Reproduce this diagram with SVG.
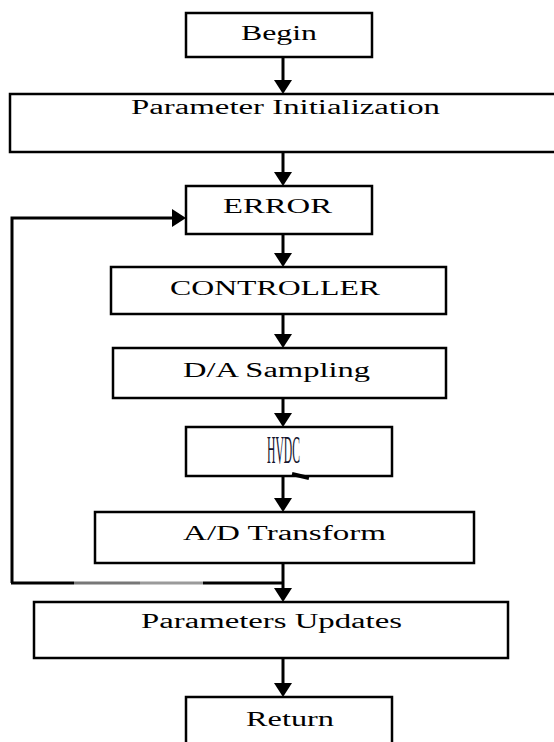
<svg xmlns="http://www.w3.org/2000/svg" width="554" height="742" viewBox="0 0 554 742">
<style>
.box{fill:#fff;stroke:#000;stroke-width:2.5}
.lbl{font-family:"Liberation Serif","Times New Roman",serif;font-size:20.5px;fill:#000}
.hv{font-family:"Liberation Serif","Times New Roman",serif;font-size:41px;fill:#15152e}
.con{fill:none;stroke:#000;stroke-width:3}
</style>
<defs>
<marker id="ah" viewBox="0 0 14 18" refX="10" refY="9" markerWidth="14" markerHeight="18" orient="auto" markerUnits="userSpaceOnUse">
<path d="M0,0 L14,9 L0,18 Z" fill="#000"/>
</marker>
</defs>
<rect width="554" height="742" fill="#fff"/>
<g id="connectors">
<line class="con" x1="283" y1="57" x2="283" y2="90" marker-end="url(#ah)"/>
<line class="con" x1="283" y1="152" x2="283" y2="182" marker-end="url(#ah)"/>
<line class="con" x1="283" y1="234" x2="283" y2="263" marker-end="url(#ah)"/>
<line class="con" x1="283" y1="314" x2="283" y2="344" marker-end="url(#ah)"/>
<line class="con" x1="283" y1="398" x2="283" y2="423" marker-end="url(#ah)"/>
<line class="con" x1="283" y1="476" x2="283" y2="508" marker-end="url(#ah)"/>
<line class="con" x1="283" y1="563" x2="283" y2="598" marker-end="url(#ah)"/>
<line class="con" x1="283" y1="658" x2="283" y2="693" marker-end="url(#ah)"/>
<polyline class="con" points="12,583 12,218 182,218" marker-end="url(#ah)"/>
<line class="con" x1="11" y1="583" x2="74" y2="583"/>
<line x1="74" y1="583" x2="140" y2="583" stroke="#777" stroke-width="3"/>
<line x1="140" y1="583" x2="203" y2="583" stroke="#9a9a9a" stroke-width="3"/>
<line class="con" x1="203" y1="583" x2="284" y2="583"/>
</g>
<g id="begin">
<rect class="box" x="186" y="13" width="186" height="44"/>
<text class="lbl" x="241" y="40" textLength="76" lengthAdjust="spacingAndGlyphs">Begin</text>
</g>
<g id="param-init">
<rect class="box" x="10" y="94" width="560" height="58"/>
<text class="lbl" x="131" y="114" textLength="309" lengthAdjust="spacingAndGlyphs">Parameter Initialization</text>
</g>
<g id="error">
<rect class="box" x="186" y="186" width="186" height="48"/>
<text class="lbl" x="223" y="213" textLength="109" lengthAdjust="spacingAndGlyphs">ERROR</text>
</g>
<g id="controller">
<rect class="box" x="111" y="267" width="335" height="47"/>
<text class="lbl" x="170" y="295" textLength="210" lengthAdjust="spacingAndGlyphs">CONTROLLER</text>
</g>
<g id="da-sampling">
<rect class="box" x="113" y="348" width="333" height="50"/>
<text class="lbl" x="183" y="377" textLength="187" lengthAdjust="spacingAndGlyphs">D/A Sampling</text>
</g>
<g id="hvdc">
<rect class="box" x="186" y="427" width="206" height="49"/>
<text class="hv" x="267" y="463" textLength="33" lengthAdjust="spacingAndGlyphs">HVDC</text>
<line x1="292" y1="474" x2="309" y2="478" stroke="#000" stroke-width="4"/>
</g>
<g id="ad-transform">
<rect class="box" x="95" y="512" width="379" height="51"/>
<text class="lbl" x="183" y="540" textLength="203" lengthAdjust="spacingAndGlyphs">A/D Transform</text>
</g>
<g id="param-updates">
<rect class="box" x="34" y="602" width="474" height="56"/>
<text class="lbl" x="141" y="628" textLength="261" lengthAdjust="spacingAndGlyphs">Parameters Updates</text>
</g>
<g id="return">
<rect class="box" x="186" y="697" width="206" height="60"/>
<text class="lbl" x="246" y="726" textLength="88" lengthAdjust="spacingAndGlyphs">Return</text>
</g>
</svg>
